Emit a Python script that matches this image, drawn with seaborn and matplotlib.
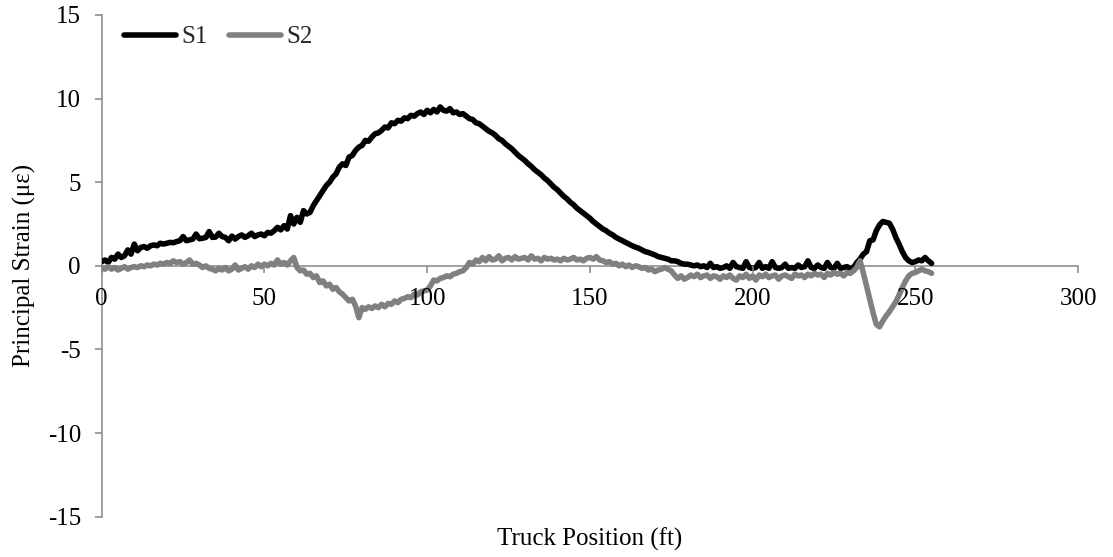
import numpy as np
import pandas as pd
import matplotlib
matplotlib.use("Agg")
import matplotlib.pyplot as plt
import seaborn as sns

# ---------------- data ----------------
truck_position_ft = list(range(0, 256))

s1_strain = [
    0.25, 0.35, 0.2, 0.5, 0.4, 0.7, 0.5, 0.6, 0.95, 0.7,
    1.3, 0.9, 1.1, 1.15, 1.05, 1.2, 1.25, 1.2, 1.35, 1.3,
    1.35, 1.4, 1.38, 1.45, 1.5, 1.75, 1.5, 1.55, 1.6, 1.9,
    1.62, 1.65, 1.7, 2.05, 1.7, 1.72, 1.95, 1.75, 1.7, 1.5,
    1.78, 1.6, 1.75, 1.85, 1.7, 1.8, 1.95, 1.75, 1.85, 1.9,
    1.8, 2.0, 1.95, 2.1, 2.3, 2.15, 2.4, 2.2, 3.0, 2.5,
    2.9, 2.6, 3.3, 3.1, 3.2, 3.6, 3.9, 4.2, 4.5, 4.8,
    5.0, 5.3, 5.5, 5.9, 6.1, 6.0, 6.5, 6.6, 6.9, 7.1,
    7.2, 7.5, 7.45, 7.7, 7.9, 7.95, 8.1, 8.3, 8.25, 8.55,
    8.5, 8.7, 8.65, 8.85, 8.8, 9.0, 8.95, 9.1, 9.2, 9.05,
    9.3, 9.15, 9.35, 9.2, 9.5, 9.3, 9.25, 9.4, 9.15, 9.2,
    9.05, 9.1, 8.95, 8.8, 8.75, 8.55, 8.5, 8.35, 8.2, 8.05,
    7.95, 7.8, 7.6, 7.5, 7.3, 7.15, 7.0, 6.8, 6.6, 6.45,
    6.3, 6.1, 5.95, 5.75, 5.6, 5.45, 5.25, 5.1, 4.9, 4.7,
    4.55, 4.35, 4.15, 4.0, 3.8, 3.65, 3.45, 3.3, 3.15, 3.0,
    2.85, 2.65, 2.5, 2.35, 2.2, 2.1, 1.95, 1.85, 1.7, 1.6,
    1.5, 1.4, 1.3, 1.2, 1.12, 1.05, 0.95, 0.85, 0.8, 0.72,
    0.65, 0.55, 0.5, 0.45, 0.4, 0.3, 0.3, 0.25, 0.15, 0.1,
    0.1, 0.05, 0.0, 0.05, -0.05, 0.0, -0.1, 0.15, -0.1, -0.05,
    -0.15, -0.1, 0.0, -0.15, 0.2, -0.05, -0.1, -0.15, 0.25, -0.1,
    -0.15, -0.1, 0.2, -0.15, -0.05, -0.15, 0.25, -0.1, -0.15, -0.1,
    0.1, -0.15, -0.1, -0.15, 0.05, -0.1, -0.05, 0.3, -0.1, -0.15,
    0.05, -0.1, -0.15, 0.2, -0.1, -0.15, 0.15, -0.15, -0.1, -0.05,
    -0.15, -0.1, 0.2, 0.4, 0.7, 0.85, 1.5, 1.55, 2.1, 2.45,
    2.65, 2.6, 2.55, 2.2, 1.7, 1.3, 0.85, 0.5, 0.3, 0.2,
    0.25, 0.35, 0.3, 0.5, 0.3, 0.15,
]

s2_strain = [
    -0.1, -0.2, -0.05, -0.2, -0.1, -0.25, -0.15, -0.05, -0.2, -0.1,
    -0.05, -0.1, 0.0, -0.05, 0.05, 0.0, 0.1, 0.05, 0.15, 0.1,
    0.2, 0.15, 0.3, 0.2, 0.25, 0.1, 0.2, 0.35, 0.1, 0.15,
    0.05, -0.1, 0.0, -0.15, -0.2, -0.3, -0.15, -0.25, -0.1, -0.3,
    -0.2, 0.05, -0.25, -0.15, -0.05, -0.2, 0.0, -0.1, 0.1, -0.05,
    0.1, 0.0, 0.15, 0.05, 0.35, 0.1, 0.2, 0.05, 0.3, 0.5,
    -0.1, -0.3, -0.25, -0.5, -0.45, -0.7, -0.6, -1.0, -0.9, -1.2,
    -1.1, -1.4, -1.3, -1.55, -1.7, -1.9, -2.1, -2.0, -2.4, -3.1,
    -2.5, -2.6, -2.45, -2.55, -2.4, -2.5, -2.3, -2.45, -2.25, -2.3,
    -2.1, -2.2, -2.0, -1.95, -1.85, -1.9, -1.7, -1.75, -1.55, -1.5,
    -1.45, -1.2, -0.85, -0.9, -0.75, -0.7, -0.6, -0.65, -0.5, -0.45,
    -0.35, -0.3, -0.1, 0.2, 0.1, 0.35, 0.25, 0.5, 0.3, 0.55,
    0.35, 0.4, 0.6, 0.3, 0.45, 0.5, 0.35, 0.55, 0.4, 0.45,
    0.5, 0.35, 0.6, 0.4, 0.45, 0.3, 0.5, 0.4, 0.45, 0.35,
    0.4, 0.3, 0.45, 0.35, 0.4, 0.5, 0.35, 0.4, 0.3, 0.45,
    0.5, 0.4, 0.55, 0.35, 0.3, 0.2, 0.25, 0.1, 0.15, 0.0,
    0.1, -0.05, 0.05, -0.1, 0.0, -0.05, -0.15, -0.1, -0.25, -0.2,
    -0.35, -0.25, -0.2, -0.1, -0.2, -0.3, -0.55, -0.75, -0.6, -0.8,
    -0.7, -0.55, -0.65, -0.5, -0.7, -0.6, -0.55, -0.75, -0.6, -0.65,
    -0.8, -0.6, -0.7, -0.55, -0.75, -0.85, -0.6, -0.7, -0.5, -0.75,
    -0.6, -0.85, -0.55, -0.65, -0.5, -0.7, -0.6, -0.55, -0.8, -0.6,
    -0.55, -0.65, -0.75, -0.5, -0.6, -0.55, -0.7, -0.5, -0.6, -0.45,
    -0.55, -0.5, -0.7, -0.45, -0.55, -0.4, -0.5, -0.45, -0.6, -0.4,
    -0.45, -0.3, -0.1, 0.3, -0.4, -1.2, -2.0, -2.8, -3.5, -3.65,
    -3.3, -3.0, -2.75, -2.45, -2.15, -1.75, -1.3, -0.9, -0.6, -0.45,
    -0.4, -0.3, -0.2, -0.3, -0.35, -0.45,
]

series_names = ["S1", "S2"]
series_colors = ["#000000", "#808080"]
x_ticks = [0, 50, 100, 150, 200, 250, 300]
y_ticks = [-15, -10, -5, 0, 5, 10, 15]
x_label = "Truck Position (ft)"
y_label = "Principal Strain (\u03bc\u03b5)"

# ---------------- styling ----------------
sns.set_theme(style="white")
plt.rcParams["font.family"] = ["Liberation Serif", "DejaVu Serif"]
plt.rcParams["axes.unicode_minus"] = False

fig = plt.figure(figsize=(11.13, 5.57), dpi=100)
ax = fig.add_axes([0.0914, 0.0724, 0.8772, 0.9007])

df = pd.DataFrame({
    "x": truck_position_ft * 2,
    "y": s1_strain + s2_strain,
    "series": ["S1"] * len(s1_strain) + ["S2"] * len(s2_strain),
})

LW = 4.0
for name, color in zip(series_names, series_colors):
    sub = df[df["series"] == name]
    sns.lineplot(data=sub, x="x", y="y", ax=ax, color=color, linewidth=LW,
                 label=name, estimator=None, sort=False,
                 solid_capstyle="round", solid_joinstyle="round", zorder=2)

ax.set_xlim(0, 300)
ax.set_ylim(-15, 15)
ax.set_xticks(x_ticks)
ax.set_yticks(y_ticks)
ax.set_xticklabels([str(v) for v in x_ticks])
ax.set_yticklabels([str(v) for v in y_ticks])

axis_gray = "#868686"
for side in ["top", "right"]:
    ax.spines[side].set_visible(False)
ax.spines["bottom"].set_position(("data", 0))
for side in ["left", "bottom"]:
    ax.spines[side].set_color(axis_gray)
    ax.spines[side].set_linewidth(1.1)
    ax.spines[side].set_zorder(1)

ax.tick_params(axis="both", which="major", direction="out", length=5,
               width=1.1, color=axis_gray, labelsize=18, labelcolor="black")
ax.tick_params(axis="y", pad=10, left=True)
ax.tick_params(axis="x", pad=11, bottom=True)
ax.xaxis.set_zorder(3)

ax.set_xlabel(x_label, fontsize=18, color="black")
ax.set_ylabel(y_label, fontsize=18, color="black")
ax.xaxis.set_label_coords(0.5, -0.022)
ax.xaxis.label.set_va("top")
ax.yaxis.set_label_coords(-0.067, 0.5)

handles, labels = ax.get_legend_handles_labels()
leg = ax.legend(handles, labels, loc="center left",
                bbox_to_anchor=(124 / 1113, 1 - 37 / 557),
                bbox_transform=fig.transFigure, ncol=2, frameon=False,
                fontsize=18, handlelength=2.08, handletextpad=0.2,
                columnspacing=0.88, borderpad=0, borderaxespad=0)
for line in leg.get_lines():
    line.set_linewidth(LW)
    line.set_solid_capstyle("round")

ax.grid(False)
fig.savefig("out.png", dpi=100)
